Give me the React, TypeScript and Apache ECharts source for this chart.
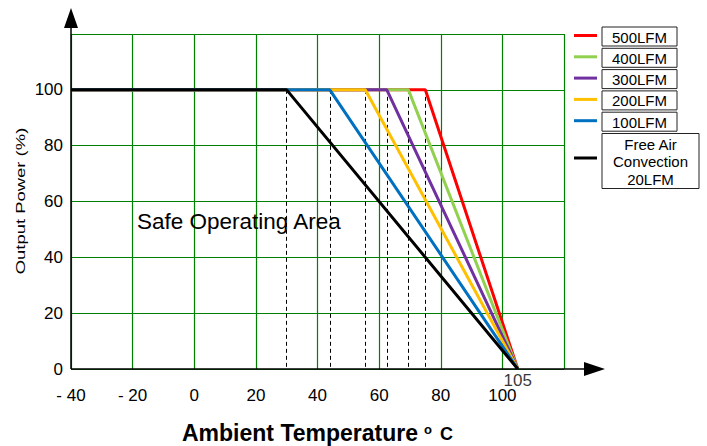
import React, { useEffect, useRef } from 'react';
import * as echarts from 'echarts';

// ---- data ----
const seriesNames = ['500LFM', '400LFM', '300LFM', '200LFM', '100LFM', 'Free Air\nConvection\n20LFM'];
const seriesColors = ['#ff0000', '#92d050', '#7030a0', '#ffc000', '#0070c0', '#000000'];
const kneeTemps = [75, 69.5, 62.5, 55.5, 44, 30];
const startTemp = -40;
const endTemp = 105;
const fullPower = 100;
const zeroPower = 0;
const xMin = -40;
const xMax = 120;
const yMin = 0;
const yMax = 120;
const tickStep = 20;

const FONT = '"Liberation Sans", Arial, Helvetica, sans-serif';

export default function App() {
  const ref = useRef<HTMLDivElement>(null);

  useEffect(() => {
    document.body.style.margin = '0';
    if (!ref.current) return;
    const chart = echarts.init(ref.current, undefined, { renderer: 'svg' });

    const gridLeft = 71;
    const gridTop = 34;
    const gridRight = 143;
    const gridBottom = 77;
    const H = 446;
    const x0 = gridLeft;
    const y0 = H - gridBottom;

    const lineSeries = seriesNames.map((name, i) => ({
      type: 'line',
      name,
      data: [
        [startTemp, fullPower],
        [kneeTemps[i], fullPower],
        [endTemp, zeroPower],
      ],
      showSymbol: false,
      symbol: 'none',
      lineStyle: { color: seriesColors[i], width: 3 },
      itemStyle: { color: seriesColors[i] },
      z: 3 + i,
      markLine: {
        silent: true,
        symbol: 'none',
        label: { show: false },
        lineStyle: { color: '#000', width: 1, type: [4, 3] },
        z: 2,
        data: [[{ coord: [kneeTemps[i], fullPower] }, { coord: [kneeTemps[i], zeroPower] }]],
      },
    }));

    // legend as boxes
    const legendGraphics: any[] = [];
    const boxX = 602;
    seriesNames.forEach((name, i) => {
      const isLast = i === seriesNames.length - 1;
      const top = 27 + i * 21.3;
      const h = isLast ? 55 : 19;
      const w = isLast ? 97 : 75;
      const cy = top + h / 2;
      legendGraphics.push({
        type: 'line',
        shape: { x1: 574, y1: isLast ? cy - 3 : cy - 1, x2: 597, y2: isLast ? cy - 3 : cy - 1 },
        style: { stroke: seriesColors[i], lineWidth: 3 },
      });
      legendGraphics.push({
        type: 'rect',
        shape: { x: boxX, y: top, width: w, height: h },
        style: { fill: '#fff', stroke: '#222', lineWidth: 1 },
      });
      legendGraphics.push({
        type: 'text',
        style: {
          text: name,
          x: boxX + w / 2,
          y: cy + 0.5,
          textAlign: 'center',
          textVerticalAlign: 'middle',
          font: '15px ' + FONT,
          lineHeight: 17.5,
          fill: '#000',
        },
      });
    });

    const option: any = {
      animation: false,
      backgroundColor: '#fff',
      grid: { left: gridLeft, top: gridTop, right: gridRight, bottom: gridBottom, containLabel: false },
      xAxis: {
        type: 'value',
        min: xMin,
        max: xMax,
        interval: tickStep,
        axisLine: { show: false },
        axisTick: { show: false },
        splitLine: { show: true, lineStyle: { color: '#008000', width: 1.2 } },
        axisLabel: {
          fontSize: 17,
          color: '#000',
          fontFamily: FONT,
          margin: 18,
          formatter: (v: number) => (v >= xMax ? '' : v < 0 ? '- ' + Math.abs(v) : String(v)),
        },
      },
      yAxis: {
        type: 'value',
        min: yMin,
        max: yMax,
        interval: tickStep,
        axisLine: { show: false },
        axisTick: { show: false },
        splitLine: { show: true, lineStyle: { color: '#008000', width: 1.2 } },
        axisLabel: {
          fontSize: 17,
          color: '#000',
          fontFamily: FONT,
          margin: 8,
          formatter: (v: number) => (v >= yMax ? '' : String(v)),
        },
      },
      series: [
        ...lineSeries,
        {
          type: 'scatter',
          data: [[endTemp, zeroPower]],
          symbolSize: 0,
          silent: true,
          z: 20,
          label: {
            show: true,
            position: 'bottom',
            distance: 3,
            formatter: () => String(endTemp),
            fontSize: 17,
            color: '#000',
            fontFamily: FONT,
          },
        },
      ],
      graphic: [
        // y axis with arrow
        { type: 'line', z: 50, shape: { x1: x0, y1: y0, x2: x0, y2: 28 }, style: { stroke: '#000', lineWidth: 1.5 } },
        { type: 'polygon', z: 50, shape: { points: [[x0 - 7, 28], [x0 + 7, 28], [x0, 8]] }, style: { fill: '#000' } },
        // x axis with arrow
        { type: 'line', z: 50, shape: { x1: x0, y1: y0, x2: 586, y2: y0 }, style: { stroke: '#000', lineWidth: 1.5 } },
        { type: 'polygon', z: 50, shape: { points: [[584, y0 - 7], [584, y0 + 7], [605, y0]] }, style: { fill: '#000' } },
        // y axis title (stretched along its length like the reference)
        {
          type: 'text',
          z: 50,
          x: 21,
          y: 201,
          rotation: Math.PI / 2,
          scaleX: 1.42,
          style: { text: 'Output Power (%)', x: 0, y: 0, textAlign: 'center', textVerticalAlign: 'middle', font: '13px ' + FONT, fill: '#000' },
        },
        // annotation
        {
          type: 'text',
          z: 50,
          style: { text: 'Safe Operating Area', x: 137, y: 221, textAlign: 'left', textVerticalAlign: 'middle', font: '22.5px ' + FONT, fill: '#000' },
        },
        // x axis title
        {
          type: 'text',
          z: 50,
          style: { text: 'Ambient Temperature', x: 182, y: 433, textAlign: 'left', textVerticalAlign: 'middle', font: 'bold 23px ' + FONT, fill: '#000' },
        },
        {
          type: 'text',
          z: 50,
          style: { text: 'o', x: 424, y: 429, textAlign: 'left', textVerticalAlign: 'middle', font: 'bold 13px ' + FONT, fill: '#000' },
        },
        {
          type: 'text',
          z: 50,
          style: { text: 'C', x: 440, y: 434, textAlign: 'left', textVerticalAlign: 'middle', font: 'bold 18px ' + FONT, fill: '#000' },
        },
        ...legendGraphics,
      ],
    };

    chart.setOption(option);
    return () => chart.dispose();
  }, []);

  return <div ref={ref} style={{ width: 707, height: 446 }} />;
}
